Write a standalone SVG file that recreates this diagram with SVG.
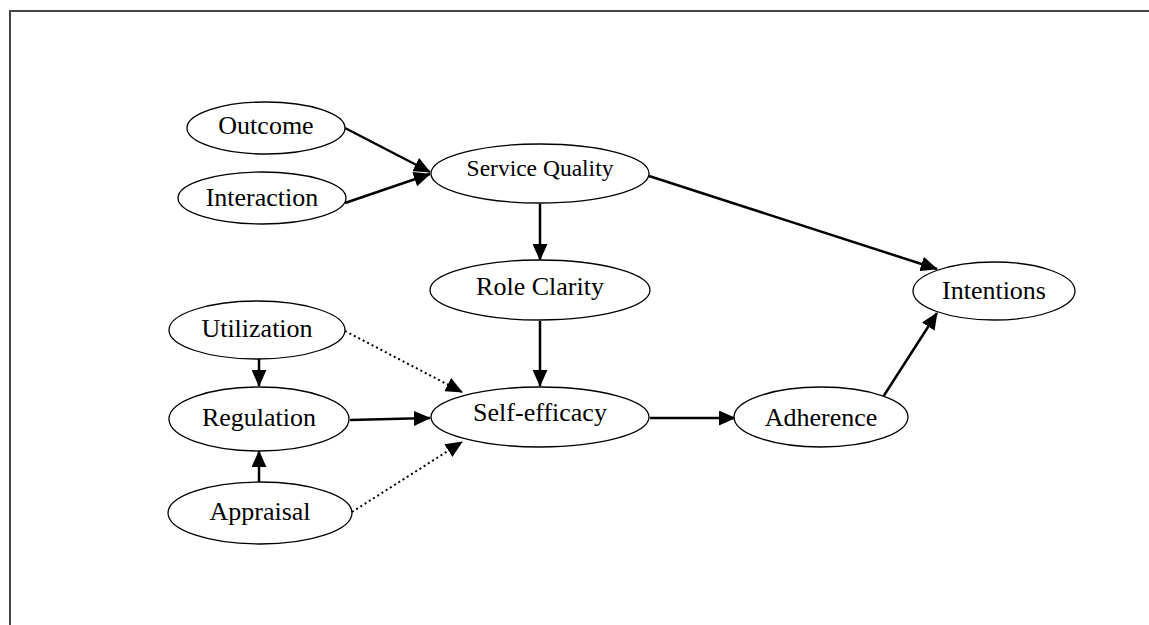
<svg xmlns="http://www.w3.org/2000/svg" width="1149" height="625" viewBox="0 0 1149 625">
<style>
.n ellipse{fill:#fff;stroke:#000;stroke-width:1.3}
.n text{font-family:"Liberation Serif","Times New Roman",serif;font-size:26px;text-anchor:middle;fill:#000}
.n text.s{font-size:23.5px}
.e line{stroke:#000;stroke-width:2.5;marker-end:url(#ah)}
.e line.d{stroke-dasharray:2 3;stroke-width:2}
</style>
<defs>
<marker id="ah" viewBox="0 0 10 10" refX="9.5" refY="5" markerUnits="userSpaceOnUse" markerWidth="17" markerHeight="15" preserveAspectRatio="none" orient="auto">
<path d="M0,0 L10,5 L0,10 z" fill="#000"/>
</marker>
</defs>
<rect width="1149" height="625" fill="#fff"/>
<path d="M10,625 V11 H1149" fill="none" stroke="#444" stroke-width="2"/>
<g class="e" id="connectors">
<line x1="345" y1="128" x2="430" y2="172"/>
<line x1="345" y1="203" x2="430" y2="174"/>
<line x1="540" y1="204" x2="540" y2="260"/>
<line x1="649" y1="176" x2="937" y2="269"/>
<line x1="540" y1="321" x2="540" y2="386"/>
<line class="d" x1="345" y1="331" x2="462" y2="392"/>
<line x1="350" y1="420" x2="430" y2="418"/>
<line class="d" x1="352" y1="512" x2="462" y2="442"/>
<line x1="259" y1="359" x2="259" y2="386"/>
<line x1="259" y1="482" x2="259" y2="451"/>
<line x1="650" y1="418" x2="735" y2="418"/>
<line x1="883" y1="397" x2="937" y2="313"/>
</g>
<g class="n" id="outcome"><ellipse cx="266" cy="128" rx="79" ry="26"/><text x="266" y="134">Outcome</text></g>
<g class="n" id="interaction"><ellipse cx="262" cy="198" rx="84" ry="26"/><text x="262" y="206">Interaction</text></g>
<g class="n" id="service-quality"><ellipse cx="540" cy="173.5" rx="109" ry="29.5"/><text class="s" x="540" y="176">Service Quality</text></g>
<g class="n" id="role-clarity"><ellipse cx="540" cy="290" rx="110" ry="30"/><text x="540" y="295">Role Clarity</text></g>
<g class="n" id="utilization"><ellipse cx="257" cy="330" rx="88" ry="29"/><text x="257" y="337">Utilization</text></g>
<g class="n" id="regulation"><ellipse cx="259" cy="419" rx="90" ry="32"/><text x="259" y="426">Regulation</text></g>
<g class="n" id="appraisal"><ellipse cx="260" cy="513" rx="92" ry="31"/><text x="260" y="520">Appraisal</text></g>
<g class="n" id="self-efficacy"><ellipse cx="540" cy="417" rx="109" ry="30"/><text x="540" y="421">Self-efficacy</text></g>
<g class="n" id="adherence"><ellipse cx="821" cy="417" rx="87" ry="30"/><text x="821" y="426">Adherence</text></g>
<g class="n" id="intentions"><ellipse cx="994" cy="291" rx="81" ry="29"/><text x="994" y="299">Intentions</text></g>
</svg>
